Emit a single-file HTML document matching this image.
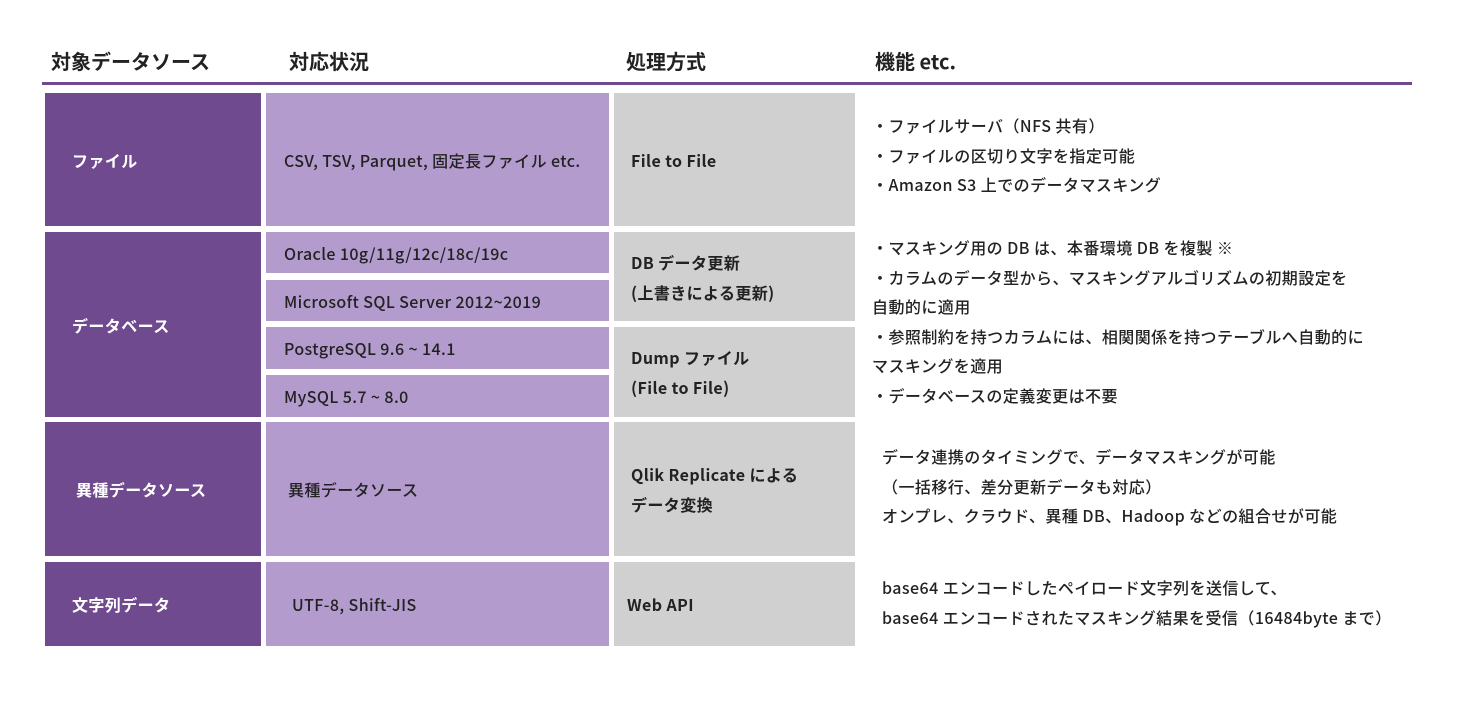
<!DOCTYPE html>
<html><head><meta charset="utf-8"><style>
body{margin:0;width:1459px;height:709px;background:#fff;position:relative;overflow:hidden;font-family:"Noto Sans CJK JP","Liberation Sans",sans-serif;color:#222;}
.a{position:absolute;}
.h{font-size:20px;font-weight:bold;top:47px;line-height:28px;}
.b{position:absolute;display:flex;align-items:center;box-sizing:border-box;font-size:16px;line-height:20px;font-weight:500;letter-spacing:0.4px;}
.d{background:#6f4a8e;color:#fff;font-weight:bold;padding-left:27px;}
.l{background:#b49bcd;padding-left:18px;}
.g{background:#d0d0d0;font-weight:bold;padding-left:17px;line-height:30px;}
.t{position:absolute;font-size:16px;line-height:29.5px;font-weight:500;letter-spacing:0.45px;}
</style></head><body>
<div class="a h" style="left:51px">対象データソース</div>
<div class="a h" style="left:289px">対応状況</div>
<div class="a h" style="left:626px">処理方式</div>
<div class="a h" style="left:875px">機能 etc.</div>
<div class="a" style="left:42px;top:82px;width:1370px;height:3px;background:#6f4a8e"></div>

<div class="b d" style="left:45px;top:93px;width:216px;height:133px">ファイル</div>
<div class="b l" style="left:266px;top:93px;width:343px;height:133px">CSV, TSV, Parquet, 固定長ファイル etc.</div>
<div class="b g" style="left:614px;top:93px;width:241px;height:133px">File to File</div>

<div class="b d" style="left:45px;top:232px;width:216px;height:185px">データベース</div>
<div class="b l" style="left:266px;top:232px;width:343px;height:41px">Oracle 10g/11g/12c/18c/19c</div>
<div class="b l" style="left:266px;top:280px;width:343px;height:41px">Microsoft SQL Server 2012~2019</div>
<div class="b l" style="left:266px;top:327px;width:343px;height:42px">PostgreSQL 9.6 ~ 14.1</div>
<div class="b l" style="left:266px;top:375px;width:343px;height:42px">MySQL 5.7 ~ 8.0</div>
<div class="b g" style="left:614px;top:232px;width:241px;height:89px"><div>DB データ更新<br>(上書きによる更新)</div></div>
<div class="b g" style="left:614px;top:327px;width:241px;height:90px"><div>Dump ファイル<br>(File to File)</div></div>

<div class="b d" style="left:45px;top:422px;width:216px;height:134px;padding-left:31px">異種データソース</div>
<div class="b l" style="left:266px;top:422px;width:343px;height:134px;padding-left:22px">異種データソース</div>
<div class="b g" style="left:614px;top:422px;width:241px;height:134px"><div>Qlik Replicate による<br>データ変換</div></div>

<div class="b d" style="left:45px;top:562px;width:216px;height:84px">文字列データ</div>
<div class="b l" style="left:266px;top:562px;width:343px;height:84px;padding-left:26px">UTF-8, Shift-JIS</div>
<div class="b g" style="left:614px;top:562px;width:241px;height:84px;padding-left:13px">Web API</div>

<div class="t" style="left:872px;top:111px">・ファイルサーバ（NFS 共有）<br>・ファイルの区切り文字を指定可能<br>・Amazon S3 上でのデータマスキング</div>
<div class="t" style="left:872px;top:233px">・マスキング用の DB は、本番環境 DB を複製 ※<br>・カラムのデータ型から、マスキングアルゴリズムの初期設定を<br>自動的に適用<br>・参照制約を持つカラムには、相関関係を持つテーブルへ自動的に<br>マスキングを適用<br>・データベースの定義変更は不要</div>
<div class="t" style="left:882px;top:442px">データ連携のタイミングで、データマスキングが可能<br>（一括移行、差分更新データも対応）<br>オンプレ、クラウド、異種 DB、Hadoop などの組合せが可能</div>
<div class="t" style="left:882px;top:573px">base64 エンコードしたペイロード文字列を送信して、<br>base64 エンコードされたマスキング結果を受信（16484byte まで）</div>
</body></html>
